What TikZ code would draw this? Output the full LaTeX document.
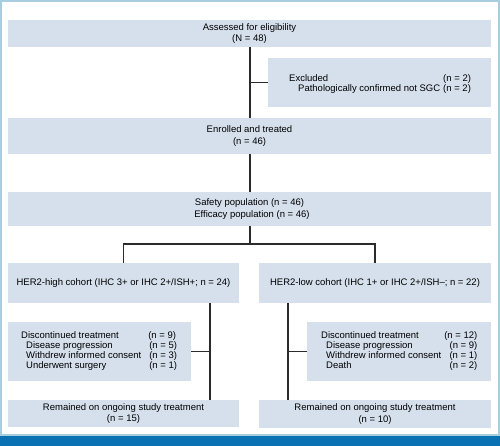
\documentclass[tikz,border=0pt]{standalone}
\usepackage{fontspec}
\setmainfont{Liberation Sans}
\usetikzlibrary{calc}
\definecolor{boxfill}{HTML}{D5E0EC}
\definecolor{framecol}{HTML}{A6CDE0}
\definecolor{bandcol}{HTML}{0A72B2}
\definecolor{linecol}{HTML}{2B2B2B}
\tikzset{
  box/.style={fill=boxfill, draw=none, inner sep=0pt, outer sep=0pt},
  txt/.style={font=\fontsize{9.5}{11.4}\selectfont, text=black, align=center, inner sep=0pt},
  conn/.style={draw=linecol, line width=1.3pt}
}
\begin{document}
\begin{tikzpicture}[x=1pt,y=-1pt]
\useasboundingbox (0,0) rectangle (500,446);
% frame and band
\fill[bandcol] (0,435.5) rectangle (500,446);
\draw[framecol, line width=2pt] (1,1) rectangle (499,435);
% boxes
\node[box, minimum width=483pt, minimum height=27pt] (assess) at (249.5,33.5) {};
\node[box, minimum width=223pt, minimum height=49pt] (excl) at (379.5,82.5) {};
\node[box, minimum width=483pt, minimum height=36pt] (enrol) at (249.5,136) {};
\node[box, minimum width=483pt, minimum height=34pt] (safety) at (249.5,209) {};
\node[box, minimum width=231pt, minimum height=40pt] (high) at (123.5,283) {};
\node[box, minimum width=232pt, minimum height=40pt] (low) at (375,283) {};
\node[box, minimum width=183pt, minimum height=59pt] (discL) at (99.5,351.5) {};
\node[box, minimum width=184pt, minimum height=59pt] (discR) at (399,351.5) {};
\node[box, minimum width=231pt, minimum height=27pt] (remL) at (123.5,413.5) {};
\node[box, minimum width=232pt, minimum height=28pt] (remR) at (375,414) {};
% texts
\node[txt] (tassess) at (assess.center) {Assessed for eligibility\\(N = 48)};
\node[txt, anchor=west] (texcl) at ($(excl.west)+(21,1.5)$) {\begin{tabular}{@{}l@{\hspace{3pt}}r@{}}Excluded & (n = 2)\\[-1pt] \hspace{9pt}Pathologically confirmed not SGC & (n = 2)\end{tabular}};
\node[txt] (tenrol) at (enrol.center) {Enrolled and treated\\(n = 46)};
\node[txt] (tsafety) at (safety.center) {Safety population (n = 46)\\\hspace{5pt}Efficacy population (n = 46)};
\node[txt] (thigh) at (high.center) {HER2-high cohort (IHC 3+ or IHC 2+/ISH+; n = 24)};
\node[txt] (tlow) at (low.center) {HER2-low cohort (IHC 1+ or IHC 2+/ISH--; n = 22)};
\node[txt, anchor=west] (tdiscL) at ($(discL.west)+(13,0)$) {\begin{tabular}{@{}l@{\hspace{7pt}}l@{}}Discontinued treatment & (n = 9)\\[-1.3pt] \hspace{5pt}Disease progression & \hspace{1pt}(n = 5)\\[-1.3pt] \hspace{5pt}Withdrew informed consent & \hspace{1pt}(n = 3)\\[-1.3pt] \hspace{5pt}Underwent surgery & \hspace{1pt}(n = 1)\end{tabular}};
\node[txt, anchor=west] (tdiscR) at ($(discR.west)+(14,0)$) {\begin{tabular}{@{}l@{\hspace{3pt}}r@{}}Discontinued treatment & (n = 12)\hspace{1pt}\\[-1.3pt] \hspace{5pt}Disease progression & (n = 9)\\[-1.3pt] \hspace{5pt}Withdrew informed consent & (n = 1)\\[-1.3pt] \hspace{5pt}Death & (n = 2)\end{tabular}};
\node[txt] (tremL) at (remL.center) {Remained on ongoing study treatment\\(n = 15)};
\node[txt] (tremR) at (remR.center) {Remained on ongoing study treatment\\(n = 10)};
% connectors
\coordinate (vtop) at (250,47);
\coordinate (vl) at (210,303);
\coordinate (vr) at (288,303);
\draw[conn] (vtop) -- (vtop |- enrol.north);
\draw[conn] (vtop |- excl.west) -- (excl.west);
\draw[conn] (enrol.south -| vtop) -- (safety.north -| vtop);
\draw[conn] (safety.south -| vtop) -- ++(0,18) coordinate (br);
\draw[conn] (high.north) |- (br) -| (low.north);
\draw[conn] (vl) -- (vl |- remL.north);
\draw[conn] (discL.east) -- (discL.east -| vl);
\draw[conn] (vr) -- (vr |- remR.north);
\draw[conn] (discR.west) -- (discR.west -| vr);
\end{tikzpicture}
\end{document}
